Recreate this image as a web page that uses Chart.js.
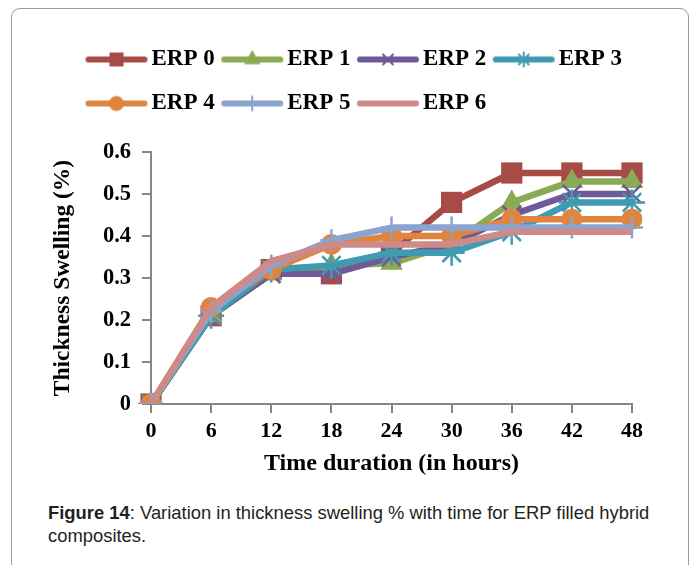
<!DOCTYPE html>
<html>
<head>
<meta charset="utf-8">
<script src="https://cdn.jsdelivr.net/npm/chart.js@4.4.1/dist/chart.umd.min.js"></script>
<style>
body{margin:0;background:#fff;}
#frame{position:absolute;left:11px;top:8px;width:676px;height:620px;border:1px solid #9a9a9a;border-radius:9px;}
#chart{position:absolute;left:0;top:0;}
#caption{position:absolute;left:48px;top:501px;width:640px;font:18.4px "Liberation Sans",Arial,sans-serif;line-height:23px;color:#231f20;}
</style>
</head>
<body>
<div id="frame"></div>
<canvas id="chart" width="696" height="490"></canvas>
<div id="caption"><b>Figure 14</b>: Variation in thickness swelling % with time for ERP filled hybrid<br>composites.</div>
<script>
hours = ["0", "6", "12", "18", "24", "30", "36", "42", "48"];
seriesNames = ["ERP 0", "ERP 1", "ERP 2", "ERP 3", "ERP 4", "ERP 5", "ERP 6"];
erp0 = [0, 0.21, 0.32, 0.31, 0.36, 0.48, 0.55, 0.55, 0.55];
erp1 = [0, 0.21, 0.31, 0.33, 0.335, 0.38, 0.48, 0.53, 0.53];
erp2 = [0, 0.21, 0.31, 0.31, 0.35, 0.38, 0.45, 0.50, 0.50];
erp3 = [0, 0.21, 0.32, 0.33, 0.36, 0.36, 0.41, 0.48, 0.48];
erp4 = [0, 0.23, 0.32, 0.38, 0.40, 0.40, 0.44, 0.44, 0.44];
erp5 = [0, 0.22, 0.33, 0.39, 0.42, 0.42, 0.42, 0.42, 0.42];
erp6 = [0, 0.23, 0.34, 0.38, 0.38, 0.38, 0.41, 0.41, 0.41];
allValues = [erp0, erp1, erp2, erp3, erp4, erp5, erp6];

colors = ["#a84b47", "#8aab55", "#6e5a98", "#3f9bb0", "#df853f", "#88a4cf", "#cd8a88"];
markers = ["rect", "triangle", "crossRot", "star", "circle", "cross", "circle"];
markerSize = [15, 13, 13, 13, 10.5, 11, 0];
legendMarkerSize = [8.5, 7.5, 7, 7, 6.5, 7, 0];

const serif = "'Liberation Serif', 'Times New Roman', serif";

// legend sample: thick line with a small marker in the middle
function legendImage(i){
    let c = document.createElement("canvas");
    c.width = 71;
    c.height = 22;
    let ctx = c.getContext("2d");
    ctx.strokeStyle = colors[i];
    ctx.fillStyle = colors[i];
    ctx.lineWidth = 6;
    ctx.lineCap = "round";
    ctx.beginPath();
    ctx.moveTo(4, 11);
    ctx.lineTo(60, 11);
    ctx.stroke();
    if(legendMarkerSize[i] > 0){
        ctx.lineWidth = 2;
        Chart.helpers.drawPoint(ctx, {pointStyle: markers[i], radius: legendMarkerSize[i], rotation: 0, borderWidth: 2}, 32, 11);
    }
    return c;
}
legendImgs = seriesNames.map((n, i) => legendImage(i));

datasets = seriesNames.map((name, i) => ({
    label: name,
    data: allValues[i],
    borderColor: colors[i],
    backgroundColor: colors[i],
    borderWidth: 6.5,
    borderJoinStyle: "round",
    pointStyle: markers[i],
    pointRadius: markerSize[i],
    pointBorderWidth: (markers[i] == "rect" || markers[i] == "triangle" || markers[i] == "circle") ? 0 : 2.5,
    pointHoverRadius: markerSize[i],
    order: 6 - i
}));

// legend: 4 items on the first row, extra space under it, rows start at x=85
const legendTweak = {
    id: "legendTweak",
    beforeInit(chart){
        const fit = chart.legend.fit;
        chart.legend.fit = function(){
            fit.call(this);
            this.height += 27;
        };
    },
    afterLayout(chart){
        chart.legend.left = 79;
        chart.legend.right = 700;
    }
};

new Chart("chart", {
    type: "line",
    data: {labels: hours, datasets: datasets},
    options: {
        responsive: false,
        animation: false,
        devicePixelRatio: 1,
        events: [],
        layout: {padding: {left: 49, right: 64, top: 27, bottom: 10}},
        plugins: {
            tooltip: {enabled: false},
            legend: {
                position: "top",
                align: "start",
                labels: {
                    usePointStyle: true,
                    pointStyleWidth: 40,
                    padding: 21,
                    color: "#000",
                    font: {family: serif, size: 23, weight: "bold"},
                    generateLabels(chart){
                        let items = Chart.defaults.plugins.legend.labels.generateLabels(chart);
                        items.forEach(it => { it.pointStyle = legendImgs[it.datasetIndex]; });
                        return items;
                    },
                    sort: (a, b) => a.datasetIndex - b.datasetIndex
                }
            }
        },
        scales: {
            x: {
                afterFit(s){ s.height = 76; },
                ticks: {padding: 5, color: "#000", maxRotation: 0, autoSkip: false, font: {family: serif, size: 22, weight: "bold"}},
                grid: {drawOnChartArea: false, drawTicks: true, tickLength: 9, color: "#868686", lineWidth: 2},
                border: {display: true, color: "#868686", width: 2},
                title: {display: true, text: "Time duration (in hours)", color: "#000", font: {family: serif, size: 24, weight: "bold"}, padding: {top: 0, bottom: 2}}
            },
            y: {
                min: 0,
                max: 0.6,
                afterFit(s){ s.width = 102; },
                ticks: {
                    stepSize: 0.1,
                    padding: 11,
                    color: "#000",
                    font: {family: serif, size: 22.5, weight: "bold"},
                    callback: v => v == 0 ? "0" : v.toFixed(1)
                },
                grid: {drawOnChartArea: false, drawTicks: true, tickLength: 9, color: "#868686", lineWidth: 2},
                border: {display: true, color: "#868686", width: 2},
                title: {display: true, text: "Thickness Swelling (%)", color: "#000", font: {family: serif, size: 23.5, weight: "bold"}, padding: {top: 0, bottom: 0}}
            }
        }
    },
    plugins: [legendTweak]
});
</script>
</body>
</html>
